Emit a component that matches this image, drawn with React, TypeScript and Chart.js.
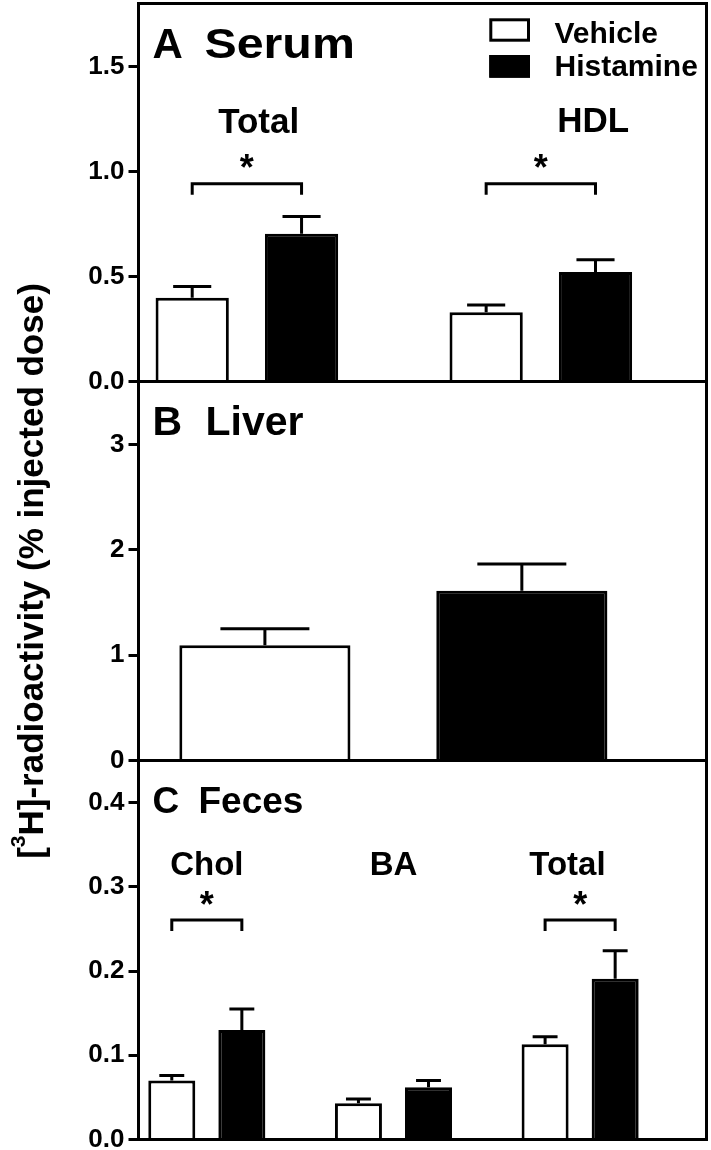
import React, { useEffect, useRef } from "react";
import { Chart, registerables } from "chart.js";

Chart.register(...registerables);

const FONT = "'Liberation Sans', Arial, Helvetica, sans-serif";

// ---------- data ----------
const seriesNames = ["Vehicle", "Histamine"];
const panelLetters = ["A", "B", "C"];
const panelNames = ["Serum", "Liver", "Feces"];
const yTitleParts = ["[", "3", "H]-radioactivity (% injected dose)"];

// Panel A: Serum
const serumCategories = ["Total", "HDL"];
const serumVehicle = [0.399, 0.33];
const serumVehicleSem = [0.053, 0.034];
const serumHistamine = [0.704, 0.521];
const serumHistamineSem = [0.082, 0.059];
const serumSignificant = [true, true];
const serumTicks = [0, 0.5, 1.0, 1.5];

// Panel B: Liver
const liverCategories = [""];
const liverVehicle = [1.094];
const liverVehicleSem = [0.157];
const liverHistamine = [1.612];
const liverHistamineSem = [0.254];
const liverSignificant = [false];
const liverTicks = [0, 1, 2, 3];

// Panel C: Feces
const fecesCategories = ["Chol", "BA", "Total"];
const fecesVehicle = [0.07, 0.043, 0.113];
const fecesVehicleSem = [0.006, 0.005, 0.009];
const fecesHistamine = [0.13, 0.062, 0.191];
const fecesHistamineSem = [0.025, 0.008, 0.033];
const fecesSignificant = [true, false, true];
const fecesTicks = [0, 0.1, 0.2, 0.3, 0.4];

// ---------- layout ----------
const W = 711;
const H = 1150;
const AREA_LEFT = 138.5;
const AREA_RIGHT = 706.5;

type Layout = {
  area: [number, number];
  yMax: number;
  decimals: number;
  xMin: number;
  xMax: number;
  catPct: number;
  barPct: number;
  capFrac: number;
  titleFont: number;
  wordOffset: number;
  wordScaleX: number;
  labelFont: number;
  labelY: number | null;
  labelShift: number[];
  starY: number;
  bracketY: number;
  legend: boolean;
  yTitle: boolean;
};

const layoutA: Layout = {
  area: [3.5, 381.5], yMax: 1.8, decimals: 1,
  xMin: 0.6313, xMax: 2.5636, catPct: 0.744, barPct: 0.67, capFrac: 0.52,
  titleFont: 42, wordOffset: 66, wordScaleX: 1.15, labelFont: 35, labelY: 1.244, labelShift: [0.04, 0.178],
  starY: 1.049, bracketY: 0.942, legend: true, yTitle: false,
};
const layoutB: Layout = {
  area: [381.5, 760.5], yMax: 3.6, decimals: 0,
  xMin: 0, xMax: 2.2286, catPct: 0.9047, barPct: 0.666, capFrac: 0.52,
  titleFont: 41, wordOffset: 67, wordScaleX: 1, labelFont: 35, labelY: null, labelShift: [0],
  starY: 0, bracketY: 0, legend: false, yTitle: true,
};
const layoutC: Layout = {
  area: [760.5, 1139.5], yMax: 0.45, decimals: 1,
  xMin: 0.634, xMax: 3.677, catPct: 0.7507, barPct: 0.671, capFrac: 0.53,
  titleFont: 37, wordOffset: 60, wordScaleX: 1, labelFont: 33, labelY: 0.328, labelShift: [0, 0, -0.068],
  starY: 0.2865, bracketY: 0.2607, legend: false, yTitle: false,
};

type Panel = {
  letter: string;
  name: string;
  categories: string[];
  vehicle: number[];
  vehicleSem: number[];
  histamine: number[];
  histamineSem: number[];
  significant: boolean[];
  ticks: number[];
  L: Layout;
};

const PANELS: Panel[] = [
  { letter: panelLetters[0], name: panelNames[0], categories: serumCategories, vehicle: serumVehicle, vehicleSem: serumVehicleSem, histamine: serumHistamine, histamineSem: serumHistamineSem, significant: serumSignificant, ticks: serumTicks, L: layoutA },
  { letter: panelLetters[1], name: panelNames[1], categories: liverCategories, vehicle: liverVehicle, vehicleSem: liverVehicleSem, histamine: liverHistamine, histamineSem: liverHistamineSem, significant: liverSignificant, ticks: liverTicks, L: layoutB },
  { letter: panelLetters[2], name: panelNames[2], categories: fecesCategories, vehicle: fecesVehicle, vehicleSem: fecesVehicleSem, histamine: fecesHistamine, histamineSem: fecesHistamineSem, significant: fecesSignificant, ticks: fecesTicks, L: layoutC },
];

function inkOffset(ctx: CanvasRenderingContext2D, text: string) {
  const m = ctx.measureText(text);
  return (m.actualBoundingBoxAscent - m.actualBoundingBoxDescent) / 2;
}

function inkCentered(ctx: CanvasRenderingContext2D, text: string, x: number, yc: number, align: CanvasTextAlign) {
  ctx.textAlign = align;
  ctx.textBaseline = "alphabetic";
  ctx.fillText(text, x, yc + inkOffset(ctx, text));
}

function makeDecor(p: Panel) {
  const L = p.L;
  return {
    id: "panelDecor",
    afterDatasetsDraw(chart: any) {
      const ctx: CanvasRenderingContext2D = chart.ctx;
      const a = chart.chartArea;
      const xs = chart.scales.x;
      const ys = chart.scales.y;
      ctx.save();
      ctx.strokeStyle = "#000";
      ctx.fillStyle = "#000";
      ctx.lineWidth = 3;
      ctx.lineCap = "butt";
      ctx.lineJoin = "miter";

      // error bars (upper)
      const vals = [p.vehicle, p.histamine];
      const sems = [p.vehicleSem, p.histamineSem];
      for (let d = 0; d < 2; d++) {
        const meta = chart.getDatasetMeta(d);
        meta.data.forEach((el: any, i: number) => {
          const yTop = ys.getPixelForValue(vals[d][i] + sems[d][i]);
          const half = (el.width * L.capFrac) / 2;
          ctx.beginPath();
          ctx.moveTo(el.x, el.y);
          ctx.lineTo(el.x, yTop);
          ctx.moveTo(el.x - half, yTop);
          ctx.lineTo(el.x + half, yTop);
          ctx.stroke();
        });
      }

      // category labels
      if (L.labelY !== null) {
        ctx.font = `bold ${L.labelFont}px ${FONT}`;
        p.categories.forEach((c, i) => {
          const x = xs.getPixelForValue(i + 1 + L.labelShift[i]);
          inkCentered(ctx, c, x, ys.getPixelForValue(L.labelY as number), "center");
        });
      }

      // significance brackets
      const m0 = chart.getDatasetMeta(0);
      const m1 = chart.getDatasetMeta(1);
      p.significant.forEach((sig, i) => {
        if (!sig) return;
        const vx = m0.data[i].x;
        const hx = m1.data[i].x;
        const yb = ys.getPixelForValue(L.bracketY);
        ctx.beginPath();
        ctx.moveTo(vx, yb + 11);
        ctx.lineTo(vx, yb);
        ctx.lineTo(hx, yb);
        ctx.lineTo(hx, yb + 11);
        ctx.stroke();
        ctx.font = `bold 36px ${FONT}`;
        inkCentered(ctx, "*", (vx + hx) / 2, ys.getPixelForValue(L.starY), "center");
      });

      // panel title: letter + name
      ctx.font = `bold ${L.titleFont}px ${FONT}`;
      const titleBase = a.top + 39.5 + inkOffset(ctx, p.letter);
      ctx.textAlign = "left";
      ctx.textBaseline = "alphabetic";
      ctx.fillText(p.letter, a.left + 14, titleBase);
      ctx.save();
      ctx.translate(a.left + L.wordOffset, titleBase);
      ctx.scale(L.wordScaleX, 1);
      ctx.fillText(p.name, 0, 0);
      ctx.restore();

      // legend
      if (L.legend) {
        const ds = chart.data.datasets;
        const bx = a.right - 217.2;
        const bw = 40.7;
        const rows = [
          { boxTop: a.top + 14.8, bh: 23.4, textY: a.top + 28.2 },
          { boxTop: a.top + 51.5, bh: 22.7, textY: a.top + 61.5 },
        ];
        ctx.font = `bold 30px ${FONT}`;
        rows.forEach((r, k) => {
          const d = ds[k];
          ctx.fillStyle = d.backgroundColor;
          ctx.fillRect(bx, r.boxTop, bw, r.bh);
          ctx.strokeStyle = d.borderColor;
          ctx.lineWidth = 3;
          ctx.strokeRect(bx + 1.5, r.boxTop + 1.5, bw - 3, r.bh - 3);
          ctx.fillStyle = "#000";
          inkCentered(ctx, d.label, a.right - 152, r.textY, "left");
        });
      }

      // y-axis title (spans all panels, centred on middle panel)
      if (L.yTitle) {
        const big = `bold 35px ${FONT}`;
        const small = `bold 21px ${FONT}`;
        ctx.fillStyle = "#000";
        ctx.textBaseline = "alphabetic";
        ctx.textAlign = "left";
        ctx.font = big;
        const w1 = ctx.measureText(yTitleParts[0]).width;
        const w3 = ctx.measureText(yTitleParts[2]).width;
        ctx.font = small;
        const w2 = ctx.measureText(yTitleParts[1]).width;
        const total = w1 + w2 + w3;
        ctx.translate(43, (a.top + a.bottom) / 2);
        ctx.rotate(-Math.PI / 2);
        const x0 = -total / 2;
        ctx.font = big;
        ctx.fillText(yTitleParts[0], x0, 0);
        ctx.font = small;
        ctx.fillText(yTitleParts[1], x0 + w1, -18);
        ctx.font = big;
        ctx.fillText(yTitleParts[2], x0 + w1 + w2, 0);
      }
      ctx.restore();
    },
    afterDraw(chart: any) {
      const ctx: CanvasRenderingContext2D = chart.ctx;
      const a = chart.chartArea;
      ctx.save();
      ctx.strokeStyle = "#000";
      ctx.lineWidth = 3;
      ctx.strokeRect(a.left, a.top, a.right - a.left, a.bottom - a.top);
      ctx.restore();
    },
  };
}

function buildConfig(p: Panel): any {
  const L = p.L;
  const mk = (vals: number[]) => p.categories.map((_, i) => ({ x: i + 1, y: vals[i] }));
  return {
    type: "bar",
    data: {
      datasets: [
        {
          label: seriesNames[0],
          data: mk(p.vehicle),
          backgroundColor: "#ffffff",
          borderColor: "#000000",
          borderWidth: 3,
          borderSkipped: "start",
          categoryPercentage: L.catPct,
          barPercentage: L.barPct,
        },
        {
          label: seriesNames[1],
          data: mk(p.histamine),
          backgroundColor: "#000000",
          borderColor: "#000000",
          borderWidth: 3,
          borderSkipped: "start",
          categoryPercentage: L.catPct,
          barPercentage: L.barPct,
        },
      ],
    },
    options: {
      responsive: false,
      animation: false,
      devicePixelRatio: 1,
      events: [],
      layout: { padding: { top: L.area[0], bottom: H - L.area[1], left: 0, right: W - AREA_RIGHT } },
      plugins: { legend: { display: false }, tooltip: { enabled: false }, title: { display: false } },
      scales: {
        x: {
          type: "linear",
          display: false,
          offset: false,
          min: L.xMin,
          max: L.xMax,
          afterBuildTicks: (s: any) => {
            s.ticks = p.categories.map((_, i) => ({ value: i + 1 }));
          },
        },
        y: {
          type: "linear",
          min: 0,
          max: L.yMax,
          afterBuildTicks: (s: any) => {
            s.ticks = p.ticks.map((v) => ({ value: v }));
          },
          ticks: {
            color: "#000",
            padding: 4,
            font: { family: FONT, size: 26, weight: "bold" },
            callback: (v: any) => Number(v).toFixed(L.decimals),
          },
          grid: {
            display: true,
            drawOnChartArea: false,
            drawTicks: true,
            tickLength: 10,
            tickWidth: 3,
            color: "#000",
            lineWidth: 3,
          },
          border: { display: true, color: "#000", width: 3 },
          afterFit: (s: any) => {
            s.width = AREA_LEFT;
            s.paddingTop = 0;
            s.paddingBottom = 0;
          },
        },
      },
    },
    plugins: [makeDecor(p)],
  };
}

export default function App() {
  const r0 = useRef<HTMLCanvasElement>(null);
  const r1 = useRef<HTMLCanvasElement>(null);
  const r2 = useRef<HTMLCanvasElement>(null);
  const refs = [r0, r1, r2];

  useEffect(() => {
    const charts = PANELS.map((p, k) => new Chart(refs[k].current as HTMLCanvasElement, buildConfig(p)));
    return () => charts.forEach((c) => c.destroy());
  }, []);

  return (
    <div style={{ position: "absolute", left: 0, top: 0, width: W, height: H, background: "#fff", overflow: "hidden" }}>
      {PANELS.map((_, k) => (
        <canvas
          key={k}
          ref={refs[k]}
          width={W}
          height={H}
          style={{ position: "absolute", left: 0, top: 0, width: W, height: H }}
        />
      ))}
    </div>
  );
}
